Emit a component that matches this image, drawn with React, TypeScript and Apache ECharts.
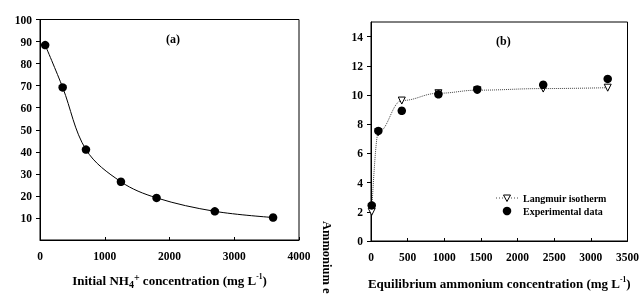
import React, { useEffect, useRef } from "react";
import * as echarts from "echarts";

// Panel (a): removal efficiency vs initial concentration
const initialConc = [80, 350, 710, 1250, 1800, 2700, 3600];
const removalPct = [88.4, 69.2, 41.0, 26.4, 19.1, 13.0, 10.2];

// Panel (b): isotherm
const eqConc = [10, 100, 420, 920, 1450, 2350, 3230];
const experimental = [2.44, 7.54, 8.92, 10.05, 10.38, 10.7, 11.1];
const langmuir = [2.0, 7.46, 9.62, 10.12, 10.33, 10.44, 10.5];

const xTicksA = [0, 1000, 2000, 3000, 4000];
const xTicksB = [0, 500, 1000, 1500, 2000, 2500, 3000, 3500];
const legendNames = ["Langmuir isotherm", "Experimental data"];

const FONT = "'Liberation Serif', 'Times New Roman', serif";

export default function App() {
  const ref = useRef<HTMLDivElement>(null);
  useEffect(() => {
    if (!ref.current) return;
    const chart = echarts.init(ref.current, null, { renderer: "svg" });
    const labelStyle = {
      color: "#000",
      fontFamily: FONT,
      fontWeight: "bold" as const,
      fontSize: 11.5,
      formatter: (v: number) => String(v),
    };
    const axisLine = { show: true, lineStyle: { color: "#000", width: 1 } };
    const rich = {
      m: { fontFamily: FONT, fontWeight: "bold", fontSize: 13, color: "#000", lineHeight: 17, verticalAlign: "middle" },
      sup: { fontFamily: FONT, fontWeight: "bold", fontSize: 10, color: "#000", lineHeight: 10, verticalAlign: "top" },
      sub: { fontFamily: FONT, fontWeight: "bold", fontSize: 10, color: "#000", lineHeight: 10, verticalAlign: "bottom" },
      s2: { fontFamily: FONT, fontWeight: "bold", fontSize: 7.5, color: "#000", lineHeight: 8, verticalAlign: "top" },
    };
    chart.setOption({
      animation: false,
      grid: [
        { left: 40, top: 19.5, right: 343, bottom: 55, show: true, borderColor: "#000", borderWidth: 1 },
        { left: 371, top: 22, right: 11, bottom: 52, show: true, borderColor: "#000", borderWidth: 1 },
      ],
      xAxis: [
        {
          type: "value",
          gridIndex: 0,
          min: xTicksA[0],
          max: xTicksA[xTicksA.length - 1],
          interval: 1000,
          axisLine,
          axisTick: { show: true, inside: true, length: 3, lineStyle: { color: "#000" } },
          axisLabel: { ...labelStyle, margin: 10 },
          splitLine: { show: false },
          name: "{m|Initial NH}{sub|4}{sup|+}{m| concentration (mg L}{s2|-1}{m|)}",
          nameLocation: "middle",
          nameGap: 32,
          nameTextStyle: { rich },
        },
        {
          type: "value",
          gridIndex: 1,
          min: xTicksB[0],
          max: xTicksB[xTicksB.length - 1],
          interval: 500,
          axisLine,
          axisTick: { show: true, inside: true, length: 3, lineStyle: { color: "#000" } },
          axisLabel: { ...labelStyle, margin: 10 },
          splitLine: { show: false },
          name: "{m|Equilibrium ammonium concentration (mg L}{s2|-1}{m|)}",
          nameLocation: "middle",
          nameGap: 34,
          nameTextStyle: { rich },
        },
      ],
      yAxis: [
        {
          type: "value",
          gridIndex: 0,
          min: 0,
          max: 100,
          interval: 10,
          axisLine,
          axisTick: { show: true, inside: false, length: 4, lineStyle: { color: "#000" } },
          axisLabel: { ...labelStyle, margin: 8, showMinLabel: false },
          splitLine: { show: false },
        },
        {
          type: "value",
          gridIndex: 1,
          min: 0,
          max: 15,
          interval: 2,
          axisLine,
          axisTick: { show: true, inside: false, length: 4, lineStyle: { color: "#000" } },
          axisLabel: { ...labelStyle, margin: 8, showMaxLabel: false },
          splitLine: { show: false },
        },
      ],
      series: [
        {
          type: "line",
          xAxisIndex: 0,
          yAxisIndex: 0,
          data: initialConc.map((x, i) => [x, removalPct[i]]),
          smooth: 0.35,
          symbol: "circle",
          symbolSize: 8.5,
          itemStyle: { color: "#000", opacity: 1 },
          lineStyle: { color: "#000", width: 1 },
        },
        {
          name: legendNames[0],
          type: "line",
          xAxisIndex: 1,
          yAxisIndex: 1,
          data: eqConc.map((x, i) => [x, langmuir[i]]),
          smooth: 0.4,
          smoothMonotone: "x",
          symbol: "triangle",
          symbolRotate: 180,
          symbolSize: 7,
          showAllSymbol: true,
          itemStyle: { color: "#fff", borderColor: "#000", borderWidth: 1 },
          lineStyle: { color: "#444", width: 1, type: "dotted" },
          z: 2,
        },
        {
          name: legendNames[1],
          type: "scatter",
          xAxisIndex: 1,
          yAxisIndex: 1,
          data: eqConc.map((x, i) => [x, experimental[i]]),
          symbol: "circle",
          symbolSize: 8.5,
          itemStyle: { color: "#000", opacity: 1 },
          z: 3,
        },
      ],
      graphic: [
        {
          type: "text",
          left: 166,
          top: 33,
          style: { text: "(a)", fill: "#000", font: `bold 12px ${FONT}` },
        },
        {
          type: "text",
          left: 496,
          top: 35,
          style: { text: "(b)", fill: "#000", font: `bold 12px ${FONT}` },
        },
        {
          type: "text",
          x: 327,
          y: 221,
          rotation: -Math.PI / 2,
          style: {
            text: "Ammonium e",
            fill: "#000",
            font: `bold 12.5px ${FONT}`,
            textAlign: "left",
            textVerticalAlign: "middle",
          },
        },
        // legend
        {
          type: "line",
          shape: { x1: 496, y1: 198, x2: 518, y2: 198 },
          style: { stroke: "#444", lineWidth: 1, lineDash: [1, 2] },
        },
        {
          type: "polygon",
          shape: { points: [[503.5, 195], [510.5, 195], [507, 201.5]] },
          style: { fill: "#fff", stroke: "#000", lineWidth: 1 },
        },
        {
          type: "circle",
          shape: { cx: 507, cy: 211, r: 4.25 },
          style: { fill: "#000" },
        },
        {
          type: "text",
          x: 523,
          y: 198,
          style: { text: legendNames[0], fill: "#000", font: `bold 10px ${FONT}`, textVerticalAlign: "middle" },
        },
        {
          type: "text",
          x: 523,
          y: 211,
          style: { text: legendNames[1], fill: "#000", font: `bold 10px ${FONT}`, textVerticalAlign: "middle" },
        },
      ],
    });
    return () => chart.dispose();
  }, []);
  return <div ref={ref} style={{ position: "fixed", left: 0, top: 0, width: 642, height: 295 }} />;
}
